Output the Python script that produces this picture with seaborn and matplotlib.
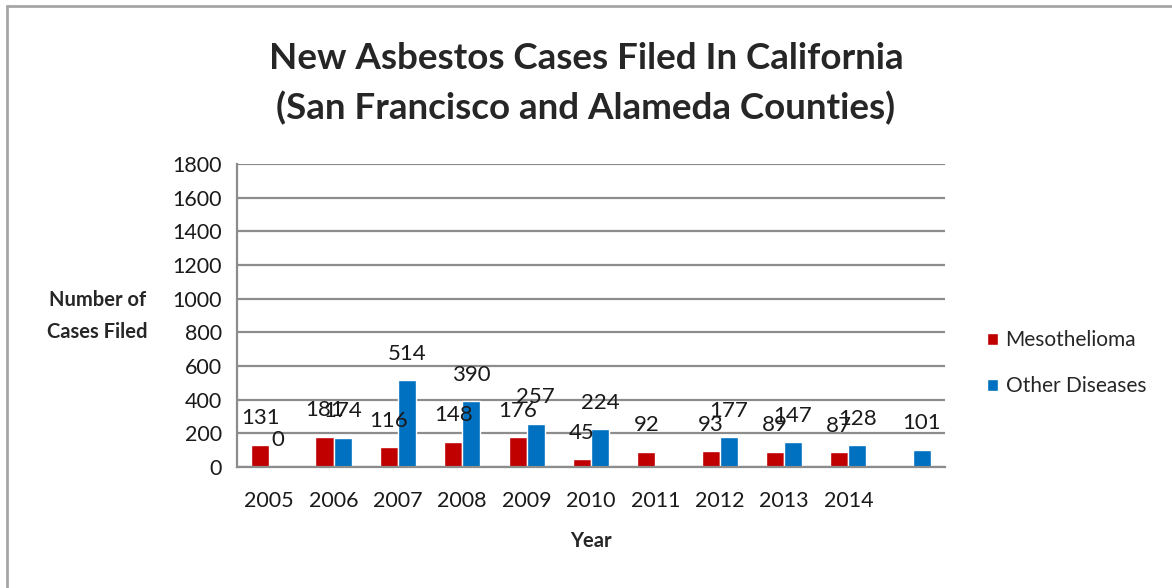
import pandas as pd
import numpy as np
import matplotlib.pyplot as plt
from matplotlib.lines import Line2D
from matplotlib.patches import Patch
import seaborn as sns

# -----------------------
# Data
# -----------------------
years = ["2005", "2006", "2007", "2008", "2009", "2010", "2011", "2012", "2013", "2014", ""]
meso = [131, 181, 116, 148, 176, 45, 92, 93, 89, 87, np.nan]
other = [0, 174, 514, 390, 257, 224, np.nan, 177, 147, 128, 101]
series = ["Mesothelioma", "Other Diseases"]
colors = ["#C00000", "#0070C0"]
yticks = list(range(0, 2000, 200))

df = pd.DataFrame({
    "Year": years * 2,
    "Cases": meso + other,
    "Disease": [series[0]] * len(years) + [series[1]] * len(years),
})

# -----------------------
# Plot
# -----------------------
sns.set_style("white")
plt.rcParams["font.family"] = ["Lato", "DejaVu Sans"]

fig = plt.figure(figsize=(11.72, 5.88), dpi=100)
ax = fig.add_axes([0.2022, 0.2058, 0.6040, 0.5153])

sns.barplot(data=df, x="Year", y="Cases", hue="Disease", order=years,
            hue_order=series, palette=colors, width=0.56, saturation=1,
            errorbar=None, legend=False, ax=ax)

for cont in ax.containers:
    vals = cont.datavalues
    labels = ["" if np.isnan(v) else f"{int(v)}" for v in vals]
    ax.bar_label(cont, labels=labels, padding=12, fontsize=16, color="#1a1a1a")

grid_c = "#8c8c8c"
ax.set_ylim(0, 1800)
ax.set_yticks(yticks)
ax.set_xlim(-0.5, len(years) - 0.5)
ax.yaxis.grid(True, color=grid_c, linewidth=1.6)
ax.set_axisbelow(True)
for s in ["top", "right"]:
    ax.spines[s].set_visible(False)
for s in ["left", "bottom"]:
    ax.spines[s].set_color(grid_c)
    ax.spines[s].set_linewidth(1.6)

ax.set_xticks(np.arange(-0.5, len(years)), minor=True)
ax.tick_params(axis="x", which="major", length=0, labelsize=15.5, pad=17,
               labelcolor="#1a1a1a")
ax.tick_params(axis="x", which="minor", length=8, width=1.6, color=grid_c)
ax.tick_params(axis="y", length=7, width=1.6, color=grid_c, labelsize=15.5, pad=4,
               labelcolor="#1a1a1a")

ax.set_xlabel("Year", fontsize=14.5, fontweight="bold", labelpad=15)
ax.set_ylabel("")
fig.text(0.083, 0.462, "Number of\nCases Filed", fontsize=14.5, fontweight="bold",
         ha="center", va="center", linespacing=1.75)

fig.suptitle("New Asbestos Cases Filed In California\n(San Francisco and Alameda Counties)",
             fontsize=26.5, fontweight="bold", y=0.928, linespacing=1.55)

handles = [Patch(facecolor=c, label=s) for c, s in zip(colors, series)]
fig.legend(handles=handles, loc="center left", bbox_to_anchor=(0.826, 0.382),
           frameon=False, fontsize=15, handlelength=0.55, handleheight=0.55,
           handletextpad=0.35, labelspacing=1.25)

# border on top and left like the screenshot
fig.add_artist(Line2D([0.006, 0.006], [0, 0.989], color="#a6a6a6", linewidth=2))
fig.add_artist(Line2D([0.006, 1], [0.989, 0.989], color="#a6a6a6", linewidth=2))

plt.savefig("out.png", dpi=100)
plt.close()
